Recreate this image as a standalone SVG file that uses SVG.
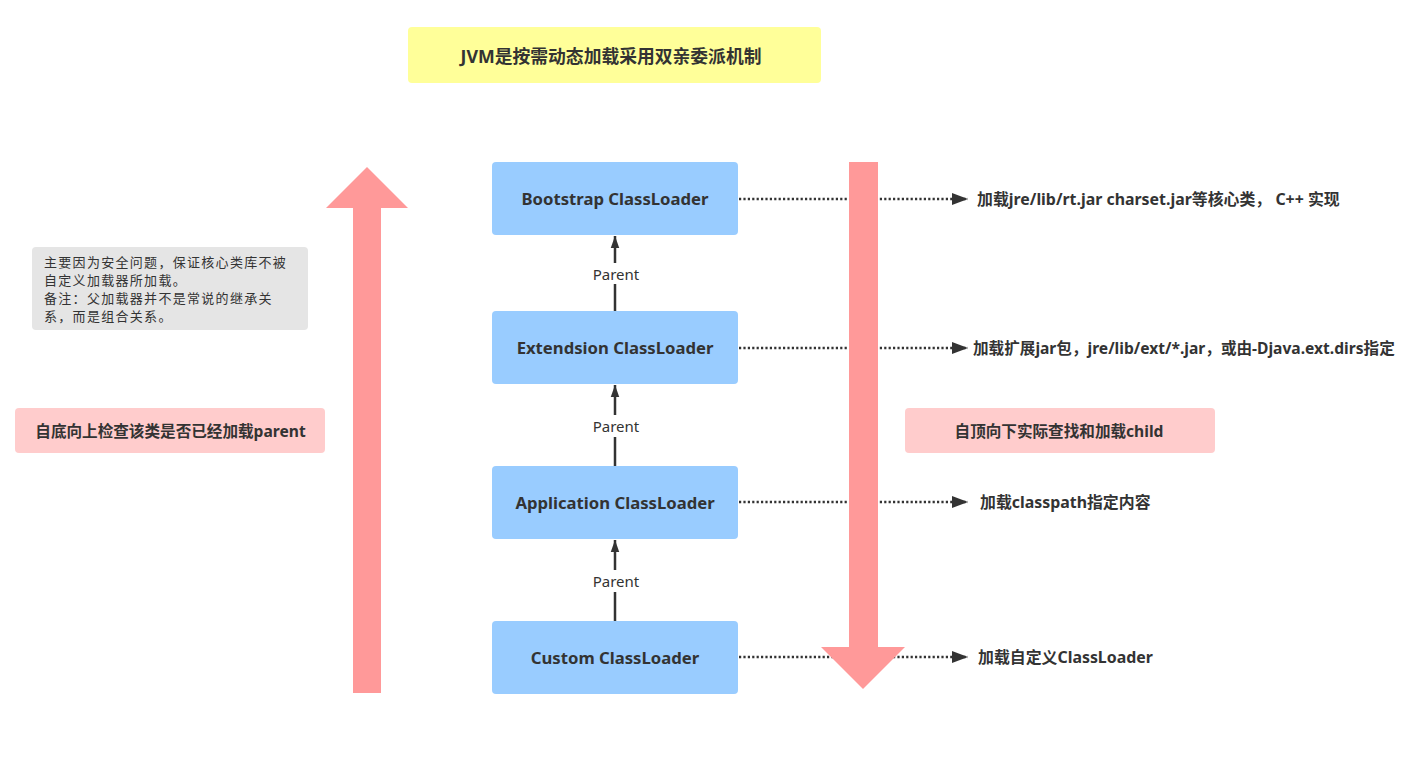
<svg xmlns="http://www.w3.org/2000/svg" width="1414" height="757" viewBox="0 0 1414 757">
<style>
.t{font-family:"Noto Sans","Noto Sans CJK SC",sans-serif;fill:#333333}
.b{font-weight:bold}
.node rect{fill:#99CCFF}
.nl{font-size:16.7px;font-weight:bold;text-anchor:middle;dominant-baseline:central}
.side{font-size:15.9px;font-weight:bold;dominant-baseline:central}
.par{stroke:#333333;stroke-width:2.5;fill:none}
.dot{stroke:#333333;stroke-width:2.5;stroke-dasharray:2.2 2.2;fill:none}
.big{fill:#FF9999}
</style>
<defs>
<marker id="ah" markerWidth="16" markerHeight="12" refX="16" refY="6" orient="auto" markerUnits="userSpaceOnUse">
<path d="M0,0 L16,6 L0,12 Z" fill="#333333"/>
</marker>
<marker id="pa" markerWidth="12" markerHeight="17" refX="17" refY="6" orient="auto" markerUnits="userSpaceOnUse" viewBox="0 0 17 12">
<path d="M0,0 L17,6 L0,12 Z" fill="#333333"/>
</marker>
</defs>

<g id="title">
<rect x="408" y="27" width="413" height="56" rx="4" fill="#FFFF99"/>
<text class="t b" x="611" y="56" font-size="17.8" text-anchor="middle" dominant-baseline="central">JVM是按需动态加载采用双亲委派机制</text>
</g>

<g id="note">
<rect x="32" y="247" width="276" height="83" rx="4" fill="#E5E5E5"/>
<text class="t" font-size="13" letter-spacing="1.3" fill="#333333">
<tspan x="44" y="266.5">主要因为安全问题，保证核心类库不被</tspan>
<tspan x="44" y="284.5">自定义加载器所加载。</tspan>
<tspan x="44" y="302.5">备注：父加载器并不是常说的继承关</tspan>
<tspan x="44" y="320.5">系，而是组合关系。</tspan>
</text>
</g>

<g id="label-up">
<rect x="15" y="408" width="310" height="45" rx="4" fill="#FFCCCC"/>
<text class="t b" x="170.5" y="430.5" font-size="15.6" text-anchor="middle" dominant-baseline="central">自底向上检查该类是否已经加载parent</text>
</g>

<g id="label-down">
<rect x="905" y="408" width="310" height="45" rx="4" fill="#FFCCCC"/>
<text class="t b" x="1059" y="430.5" font-size="15.6" text-anchor="middle" dominant-baseline="central">自顶向下实际查找和加载child</text>
</g>

<g id="nodes">
<g id="bootstrap" class="node">
<rect x="492" y="162" width="246" height="73" rx="4"/>
<text class="t nl" x="615" y="198.5">Bootstrap ClassLoader</text>
</g>
<g id="extension" class="node">
<rect x="492" y="311" width="246" height="73" rx="4"/>
<text class="t nl" x="615" y="347.5">Extendsion ClassLoader</text>
</g>
<g id="application" class="node">
<rect x="492" y="466" width="246" height="73" rx="4"/>
<text class="t nl" x="615" y="502.5">Application ClassLoader</text>
</g>
<g id="custom" class="node">
<rect x="492" y="621" width="246" height="73" rx="4"/>
<text class="t nl" x="615" y="657.5">Custom ClassLoader</text>
</g>
</g>

<g id="connectors">
<path class="dot" d="M739,199 H968" marker-end="url(#ah)"/>
<path class="dot" d="M739,348 H968" marker-end="url(#ah)"/>
<path class="dot" d="M739,502 H968" marker-end="url(#ah)"/>
<path class="dot" d="M739,657 H968" marker-end="url(#ah)"/>

<path class="par" d="M615,311 V284"/>
<path class="par" d="M615,263 V236" marker-end="url(#pa)"/>
<text class="t" x="616" y="274" font-size="15" text-anchor="middle" dominant-baseline="central">Parent</text>

<path class="par" d="M615,466 V437"/>
<path class="par" d="M615,415 V385" marker-end="url(#pa)"/>
<text class="t" x="616" y="426" font-size="15" text-anchor="middle" dominant-baseline="central">Parent</text>

<path class="par" d="M615,621 V592"/>
<path class="par" d="M615,570 V540" marker-end="url(#pa)"/>
<text class="t" x="616" y="581" font-size="15" text-anchor="middle" dominant-baseline="central">Parent</text>
</g>

<g id="big-arrows">
<path id="up-arrow" class="big" d="M353,693 V208 H326 L367,167 L408,208 H381 V693 Z"/>
<path id="down-arrow" class="big" d="M849,162 H878 V647 H905 L863,689 L821,647 H849 Z"/>
</g>

<g id="side-texts">
<text class="t side" x="977" y="199">加载jre/lib/rt.jar charset.jar等核心类， C++ 实现</text>
<text class="t side" x="973" y="348" style="font-size:15.6px">加载扩展jar包，jre/lib/ext/*.jar，或由-Djava.ext.dirs指定</text>
<text class="t side" x="980" y="502">加载classpath指定内容</text>
<text class="t side" x="978" y="657">加载自定义ClassLoader</text>
</g>
</svg>
